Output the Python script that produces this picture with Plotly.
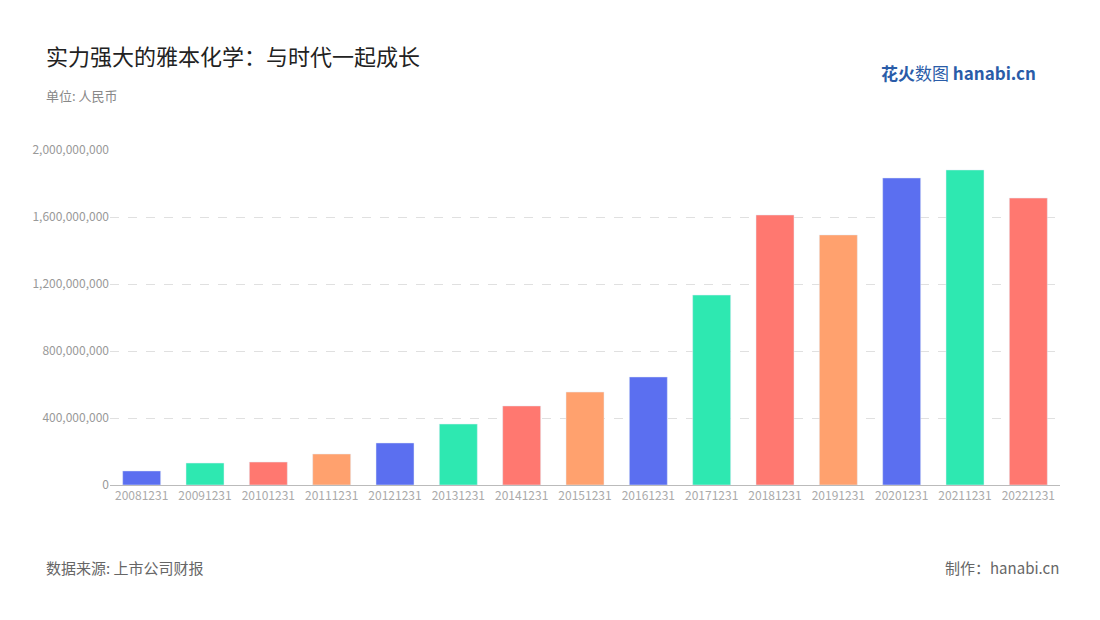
import plotly.graph_objects as go

years = ["20081231","20091231","20101231","20111231","20121231","20131231","20141231","20151231",
         "20161231","20171231","20181231","20191231","20201231","20211231","20221231"]
values = [84e6,131e6,137e6,185e6,251e6,364e6,472e6,555e6,645e6,1134e6,1612e6,1493e6,1833e6,1881e6,1713e6]
palette = ["#5b6ff0","#2ee8b1","#ff7870","#ffa16e"]
colors = [palette[i % 4] for i in range(len(years))]
tickvals = [0,400e6,800e6,1200e6,1600e6,2000e6]
ticktext = ["0","400,000,000","800,000,000","1,200,000,000","1,600,000,000","2,000,000,000"]

F = "Noto Sans CJK SC"
L, R, T, B = 102, 48, 142, 143
fig = go.Figure(go.Bar(x=years, y=values, marker_color=colors, width=0.6))
fig.update_layout(
    width=1100, height=620, plot_bgcolor="white", paper_bgcolor="white",
    margin=dict(l=L, r=R, t=T, b=B), showlegend=False,
    font=dict(family=F, color="#999"),
    xaxis=dict(type="category", tickfont=dict(size=12, color="#aaa"), showline=True,
               linecolor="#bbb", ticks="", showgrid=False),
    yaxis=dict(range=[0,2000e6], tickvals=tickvals, ticktext=ticktext, showgrid=True,
               gridcolor="#e0e0e0", griddash="dash", zeroline=False,
               tickfont=dict(size=12, color="#999")),
)
anns = [
    dict(text="实力强大的雅本化学：与时代一起成长", x=36, y=47, size=22, color="#222"),
    dict(text="单位: 人民币", x=36, y=88, size=13, color="#888"),
    dict(text="数据来源: 上市公司财报", x=36, y=559, size=15, color="#666"),
    dict(text="制作：hanabi.cn", x=1053, y=559, size=15, color="#666", right=True),
    dict(text="<b>花火</b>数图 <b>hanabi.cn</b>", x=1030, y=64, size=17, color="#2a5ca8", right=True),
]
for a in anns:
    px = (a["x"] - L) / (1100 - L - R)
    py = (620 - B - a["y"]) / (620 - T - B)
    fig.add_annotation(text=a["text"], x=px, y=py, xref="paper", yref="paper", showarrow=False,
                       xanchor="right" if a.get("right") else "left", yanchor="middle",
                       font=dict(size=a["size"], color=a["color"], family=F))
fig.write_html("out.html")
